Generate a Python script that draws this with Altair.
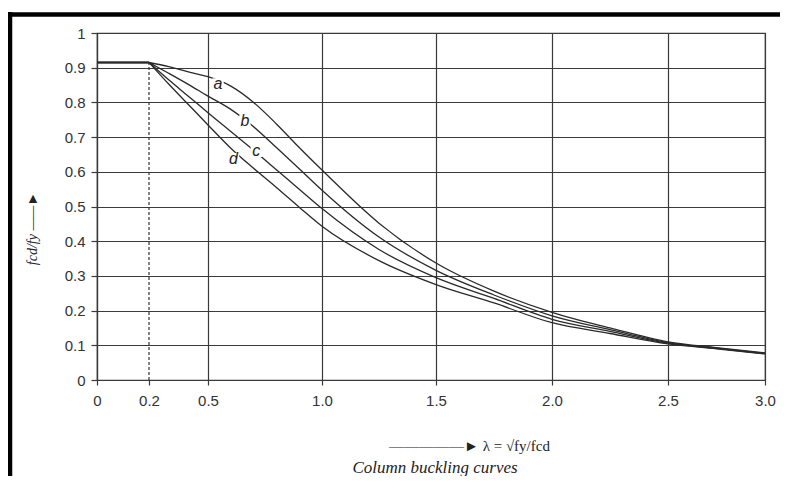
import altair as alt
import pandas as pd

# ---------------- data ----------------
lam = [0, 0.2, 0.3, 0.4, 0.5, 0.6, 0.7, 0.8, 0.9, 1.0, 1.25, 1.5, 1.75, 2.0, 2.25, 2.5, 2.75, 3.0]
curve_a = [0.915, 0.915, 0.903, 0.888, 0.874, 0.847, 0.800, 0.738, 0.670, 0.605, 0.452, 0.337, 0.256, 0.195, 0.150, 0.110, 0.093, 0.078]
curve_b = [0.915, 0.915, 0.884, 0.852, 0.818, 0.780, 0.730, 0.670, 0.609, 0.547, 0.412, 0.316, 0.245, 0.185, 0.145, 0.108, 0.092, 0.077]
curve_c = [0.915, 0.915, 0.865, 0.818, 0.770, 0.716, 0.662, 0.606, 0.550, 0.494, 0.376, 0.295, 0.235, 0.175, 0.140, 0.106, 0.091, 0.076]
curve_d = [0.915, 0.915, 0.853, 0.794, 0.735, 0.668, 0.610, 0.555, 0.498, 0.443, 0.344, 0.275, 0.222, 0.165, 0.134, 0.104, 0.090, 0.075]
curve_names = ["a", "b", "c", "d"]
label_lam = [0.544, 0.662, 0.712, 0.612]
label_val = [0.853, 0.747, 0.659, 0.638]
plateau_lam = 0.2
plateau_val = 0.915
x_ticks = [0, 0.2, 0.5, 1.0, 1.5, 2.0, 2.5, 3.0]
y_ticks = [0, 0.1, 0.2, 0.3, 0.4, 0.5, 0.6, 0.7, 0.8, 0.9, 1.0]
caption = "Column buckling curves"

rows = []
plateau_rows = []
for name, vals in zip(curve_names, [curve_a, curve_b, curve_c, curve_d]):
    for l, v in zip(lam, vals):
        if l >= plateau_lam:
            rows.append({"lam": l, "val": v, "curve": name})
        if l <= plateau_lam:
            plateau_rows.append({"lam": l, "val": v, "curve": name})
df = pd.DataFrame(rows)
plateau_df = pd.DataFrame(plateau_rows)
labels_df = pd.DataFrame({"lam": label_lam, "val": label_val, "curve": curve_names})
dash_df = pd.DataFrame({"lam": [plateau_lam], "val": [0.0], "val2": [plateau_val]})

GRID = "#3a3a3a"
LINE = "#2a2a2a"

# the printed axis is not evenly spaced; follow its gridlines
xscale = alt.Scale(domain=[0, 0.2, 0.5, 1.0, 1.5, 2.0, 2.5, 3.0],
                   range=[0, 52, 111, 225, 339, 455, 571, 668], nice=False, zero=False)
yscale = alt.Scale(domain=[0, 1], nice=False, zero=False)

x_axis = alt.Axis(
    values=x_ticks,
    labelExpr="datum.value == 0 ? '0' : format(datum.value, '.1f')",
    title="—————►  λ = √fy/fcd",
    titleFont="Liberation Serif", titleFontSize=15, titleFontWeight="normal", titleColor="#222",
    titleX=372, titleY=58,
    labelFont="Liberation Sans", labelFontSize=15, labelColor="#333", labelPadding=8,
    labelFlush=False,
    grid=True, gridColor=GRID, gridWidth=1.2,
    gridOpacity=alt.condition("datum.value == 0.2", alt.value(0), alt.value(1)),
    domainColor=GRID, domainWidth=1.2, tickColor=GRID, tickSize=5, tickWidth=1.2,
)
y_axis = alt.Axis(
    values=y_ticks,
    labelExpr="datum.value == 0 ? '0' : (datum.value == 1 ? '1' : format(datum.value, '.1f'))",
    title="fcd/fy  ——►",
    titleFont="Liberation Serif", titleFontSize=14, titleFontStyle="italic", titleFontWeight="normal",
    titleColor="#222", titleX=-58, titleY=195, titleAngle=270,
    labelFont="Liberation Sans", labelFontSize=15, labelColor="#333", labelPadding=6,
    labelFlush=False,
    grid=True, gridColor=GRID, gridWidth=1.2,
    domainColor=GRID, domainWidth=1.2, tickColor=GRID, tickSize=6, tickWidth=1.2,
)

X = alt.X("lam:Q", scale=xscale, axis=x_axis)
Y = alt.Y("val:Q", scale=yscale, axis=y_axis)

plateau = alt.Chart(plateau_df).mark_line(color=LINE, strokeWidth=1.3).encode(
    x=X, y=Y, detail="curve:N"
)
lines = alt.Chart(df).mark_line(color=LINE, strokeWidth=1.3, interpolate="monotone").encode(
    x=X, y=Y, detail="curve:N"
)
dashed = alt.Chart(dash_df).mark_rule(color="#333", strokeWidth=1.2, strokeDash=[3, 2]).encode(
    x=X, y=Y, y2="val2:Q"
)
label_bg = alt.Chart(labels_df).mark_point(shape="square", filled=True, color="white", opacity=1, size=130).encode(
    x=X, y=Y
)
label_txt = alt.Chart(labels_df).mark_text(
    font="Liberation Sans", fontStyle="italic", fontSize=16, color="#222"
).encode(x=X, y=Y, text="curve:N")

one_row = alt.Data(values=[{"caption": caption}])
caption_txt = alt.Chart(one_row).mark_text(
    font="Liberation Serif", fontSize=17, fontStyle="italic", color="#222", align="center", baseline="middle"
).encode(x=alt.value(338), y=alt.value(435), text="caption:N")
left_border = alt.Chart(one_row).mark_rule(color="black", strokeWidth=4.5).encode(
    x=alt.value(-87), y=alt.value(-21), y2=alt.value(470)
)
top_border = alt.Chart(one_row).mark_rule(color="black", strokeWidth=4.5).encode(
    x=alt.value(-89), x2=alt.value(700), y=alt.value(-18.5)
)

chart = alt.layer(dashed, plateau, lines, label_bg, label_txt, caption_txt, left_border, top_border).properties(
    width=668,
    height=347,
    autosize=alt.AutoSizeParams(type="none"),
    padding={"left": 89, "top": 25, "right": 15, "bottom": 96},
    background="white",
).configure_view(stroke=GRID, strokeWidth=1.2)

chart.save("out.html", embed_options={"renderer": "svg", "actions": False})
